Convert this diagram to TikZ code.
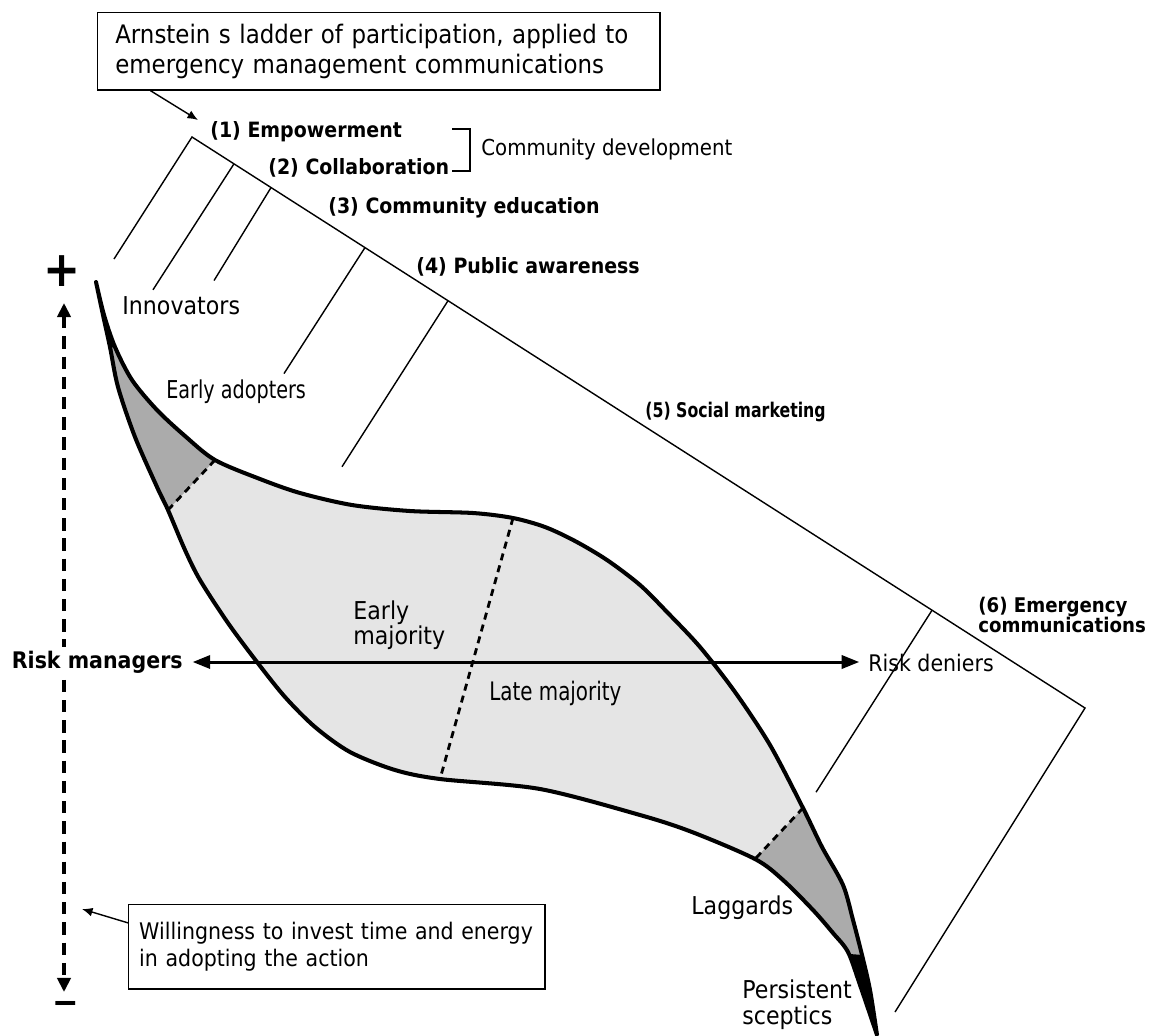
\documentclass[tikz,border=0pt]{standalone}
\usepackage{fontspec}
\setmainfont{DejaVu Sans}[FakeStretch=0.9]
\newfontfamily\narrowfont{DejaVu Sans}[FakeStretch=0.78]
\usetikzlibrary{arrows.meta,calc}
\definecolor{bandlight}{gray}{0.9}
\definecolor{banddark}{gray}{0.67}

\begin{document}
\begin{tikzpicture}[x=0.02cm, y=-0.02cm,
    rung/.style={line width=0.8pt},
    band/.style={line width=2.3pt, line join=round},
    cut/.style={line width=1.6pt, dash pattern=on 4pt off 3pt},
    lab/.style={inner sep=0pt, anchor=west, align=left},
    steplab/.style={lab, font=\fontsize{12}{14}\selectfont\bfseries},
    grouplab/.style={lab, font=\fontsize{14}{14.5}\selectfont},
    note/.style={draw, line width=0.8pt, align=left, anchor=north west},
    pointer/.style={line width=0.8pt, -{Latex[length=6pt,width=5pt]}},
    axis/.style={line width=1.7pt, arrows={Triangle[length=10pt,width=7.5pt]-Triangle[length=10pt,width=7.5pt]}},
    vaxis/.style={line width=2.3pt, dash pattern=on 7pt off 4.5pt, arrows={Triangle[length=8pt,width=7.5pt]-Triangle[length=8pt,width=7.5pt]}}]

    \useasboundingbox (0,0) rectangle (1155,1035);

    % ladder
    \coordinate (top) at (192,137);
    \coordinate (corner) at (1085,708);
    \draw[rung] (114,259) -- (top) -- (corner) -- (895,1012);
    \draw[rung] ($(top)!0.047!(corner)$) -- ++(-81,126);
    \draw[rung] ($(top)!0.0885!(corner)$) -- ++(-57,93);
    \draw[rung] ($(top)!0.1937!(corner)$) -- ++(-81,126);
    \draw[rung] ($(top)!0.2867!(corner)$) -- ++(-106,166);
    \draw[rung] ($(top)!0.8287!(corner)$) -- ++(-116,182);

    % rungs of the ladder
    \node[steplab] (s1) at (210,132) {(1) Empowerment};
    \node[steplab] (s2) at (268,168) {(2) Collaboration};
    \node[steplab] (s3) at (328,208) {(3) Community education};
    \node[steplab] (s4) at (416,267) {(4) Public awareness};
    \node[lab, font=\narrowfont\fontsize{11.5}{13}\selectfont\bfseries] (s5) at (645,412) {(5) Social marketing};
    \node[steplab, font=\fontsize{11.5}{11.5}\selectfont\bfseries] (s6) at (978,615) {(6) Emergency\\communications};
    \draw[rung] (452,129) -- (470,129) -- (470,171) -- (452,171);
    \node[lab, font=\fontsize{12.5}{14}\selectfont] (dev) at (481,149) {Community development};

    % band of adopters
    \path[save path=\lens]
        plot[smooth] coordinates {(96,282) (104,315) (115,347) (132,380) (157,410) (185,436)
            (215,460) (260,479) (300,493) (352,505) (410,511) (473,513) (513,518) (545,527)
            (575,541) (607,560) (640,585) (667,612) (700,647) (735,692) (770,745) (803,808)
            (822,847) (843,885) (853,920) (862,955) (870,990) (877,1035)}
        -- plot[smooth] coordinates {(877,1035) (860,985) (848,952) (833,933) (813,910)
            (783,880) (755,859) (692,832) (640,815) (540,789) (440,779) (395,770) (350,752)
            (315,727) (285,697) (257,662) (228,623) (200,580) (185,550) (168,510) (157,487)
            (135,437) (118,387) (110,347) (103,315) (96,282)}
        -- cycle;
    \fill[bandlight, use path=\lens];
    \begin{scope}
        \clip[use path=\lens];
        \fill[banddark] (121,560) -- (262,410) -- (262,200) -- (40,200) -- (40,560) -- cycle;
        \fill[black] (40,200) -- (200,200) -- (200,342) -- (40,352) -- cycle;
        \fill[banddark] (851,757) -- (707,910) -- (707,1060) -- (950,1060) -- (950,757) -- cycle;
        \fill[black] (800,950) -- (950,962) -- (950,1060) -- (800,1060) -- cycle;
    \end{scope}
    \draw[cut] (168,510) -- (215,460);
    \draw[cut] (513,518) -- (440,779);
    \draw[cut] (803,808) -- (755,859);
    \draw[band, use path=\lens];

    % groups
    \node[grouplab] (inno) at (122,306) {Innovators};
    \node[grouplab, font=\narrowfont\fontsize{14}{14.5}\selectfont] (early) at (166,392) {Early adopters};
    \node[grouplab] (emaj) at (353,625) {Early\\majority};
    \node[grouplab, font=\narrowfont\fontsize{14.5}{15}\selectfont] (lmaj) at (489,693) {Late majority};
    \node[grouplab] (lag) at (691,908) {Laggards};
    \node[grouplab, font=\fontsize{14}{15}\selectfont] (scep) at (742,1005) {Persistent\\sceptics};

    % axes
    \node[font=\fontsize{28}{28}\selectfont\bfseries] (plus) at (62,271) {+};
    \node[font=\fontsize{20}{20}\selectfont\bfseries] (minus) at (66,1008) {−};
    \coordinate (hi) at (64,303);
    \coordinate (lo) at (64,992);
    \draw[vaxis] (hi) -- (lo);
    \node[lab, anchor=east, fill=white, inner ysep=2pt, font=\fontsize{13}{15}\selectfont\bfseries] (mgr) at (183,662) {Risk managers};
    \node[lab, font=\fontsize{13}{15}\selectfont] (den) at (868,663) {Risk deniers};
    \draw[axis, shorten <=5.5pt, shorten >=5pt] (mgr.east) -- (mgr.east -| den.west);

    % boxes
    \node[note, font=\fontsize{14.5}{17}\selectfont, inner xsep=10pt, text width=300pt, minimum height=44pt] (title) at (97,12)
        {Arnstein s ladder of participation, applied to\\emergency management communications};
    \coordinate (apex) at (198,120);
    \draw[pointer] ($(title.south west)!0.095!(title.south east)$) -- (apex);
    \node[note, font=\fontsize{13}{15.5}\selectfont, inner xsep=6pt, text width=225pt, minimum height=48pt] (will) at (128,904)
        {Willingness to invest time and energy\\in adopting the action};
    \coordinate (axispt) at (82,909);
    \draw[pointer] ($(will.north west)!0.22!(will.south west)$) -- (axispt);

\end{tikzpicture}
\end{document}
